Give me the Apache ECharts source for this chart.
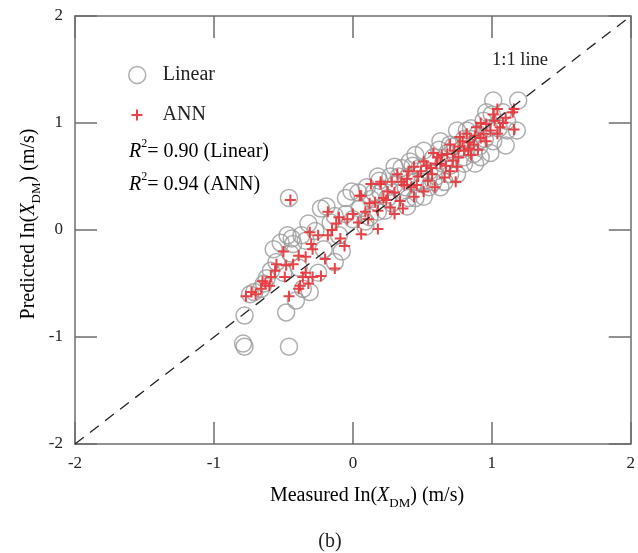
<!DOCTYPE html>
<html><head><meta charset="utf-8">
<script src="https://cdn.jsdelivr.net/npm/echarts@6/dist/echarts.min.js"></script>
<style>html,body{margin:0;padding:0;background:#fff}#c{width:638px;height:553px}</style>
</head><body><div id="c"></div>
<script>
const xTicks = [-2, -1, 0, 1, 2];
const yTicks = [-2, -1, 0, 1, 2];
const linearX = [-0.79,-0.78,-0.46,-0.78,-0.48,-0.41,-0.74,-0.71,-0.66,-0.64,-0.36,-0.31,-0.59,-0.57,-0.39,-0.45,-0.43,-0.34,-0.46,-0.55,-0.50,-0.62,-0.52,-0.47,-0.44,-0.37,-0.32,-0.27,-0.21,-0.13,-0.19,-0.16,-0.05,-0.13,-0.23,-0.01,0.04,0.09,0.13,0.18,0.19,-0.25,-0.10,0.00,0.05,-0.08,
0.09,0.18,0.23,0.30,0.39,0.41,0.51,0.51,0.63,0.63,0.75,0.75,0.80,0.25,0.30,0.35,0.40,0.45,0.48,0.55,0.58,0.60,0.65,0.68,0.70,0.72,0.45,0.55,0.15,0.28,0.33,0.38,
0.20,0.12,0.27,0.35,0.43,0.50,0.58,0.62,0.70,0.66,0.45,0.40,-0.05,0.10,0.70,
0.82,0.94,1.01,1.19,1.18,1.11,1.11,1.01,0.91,0.87,0.80,1.10,0.85,0.90,0.95,1.05,1.08,0.98,0.88,0.92,0.78,1.00,0.85,0.80,0.96,0.99];
const linearY = [-1.06,-1.09,-1.09,-0.80,-0.77,-0.66,-0.60,-0.58,-0.55,-0.50,-0.55,-0.58,-0.38,-0.18,-0.35,-0.22,-0.13,-0.10,0.30,-0.30,-0.40,-0.45,-0.12,-0.05,-0.08,-0.05,0.06,-0.01,-0.18,-0.30,0.22,0.07,0.15,0.13,0.20,0.36,0.35,0.03,0.29,0.17,0.46,-0.40,-0.05,0.10,0.20,-0.20,
0.08,0.50,0.18,0.59,0.22,0.64,0.31,0.74,0.40,0.83,0.52,0.93,0.62,0.30,0.42,0.35,0.50,0.45,0.58,0.55,0.68,0.50,0.62,0.72,0.60,0.78,0.30,0.40,0.35,0.25,0.50,0.40,
0.35,0.12,0.50,0.58,0.60,0.45,0.45,0.75,0.80,0.45,0.70,0.30,0.30,0.40,0.52,
0.93,1.02,1.21,1.21,0.93,1.02,0.93,0.83,0.78,0.71,0.68,0.79,0.85,0.90,0.85,0.95,1.10,0.95,0.62,0.68,0.75,1.08,0.95,0.85,1.10,0.72];
const annX = [-0.77,-0.73,-0.70,-0.66,-0.63,-0.59,-0.56,-0.55,-0.48,-0.49,-0.46,-0.39,-0.36,-0.29,-0.34,-0.29,-0.43,-0.32,-0.38,-0.45,-0.18,0.05,0.20,0.16,-0.04,-0.12,-0.18,-0.31,-0.30,-0.06,-0.09,0.06,0.04,0.11,0.18,0.09,-0.39,-0.20,-0.13,-0.23,-0.34,-0.50,-0.65,-0.60,
-0.15,-0.25,-0.10,0.00,0.12,
0.06,0.13,0.20,0.25,0.32,0.39,0.44,0.51,0.54,0.59,0.61,0.68,0.70,0.75,0.77,0.80,0.34,0.27,0.18,0.44,0.51,0.66,0.70,0.30,0.37,0.47,0.56,0.63,0.58,0.72,0.42,0.24,
0.22,0.28,0.35,0.40,0.46,0.49,0.53,0.57,0.60,0.64,0.67,0.73,0.76,0.79,0.83,0.30,0.36,0.74,
1.04,1.16,1.15,1.16,1.01,0.96,0.89,1.06,1.04,0.94,0.82,0.87,0.77,0.96,1.02,0.92,0.85,0.99,1.10,0.84,0.88,0.90,0.92,1.08];
const annY = [-0.62,-0.58,-0.60,-0.55,-0.50,-0.44,-0.38,-0.32,-0.33,-0.44,-0.62,-0.55,-0.44,-0.44,-0.25,-0.18,-0.32,-0.50,-0.52,0.28,0.17,0.32,0.43,0.26,0.10,0.06,-0.05,-0.02,-0.13,-0.15,-0.08,-0.04,0.07,0.10,0.01,0.17,-0.24,-0.27,-0.36,-0.43,-0.40,-0.20,-0.48,-0.52,
0.00,-0.05,0.12,0.15,0.25,
0.32,0.43,0.45,0.36,0.52,0.48,0.59,0.64,0.46,0.40,0.68,0.71,0.80,0.59,0.87,0.74,0.27,0.21,0.18,0.31,0.36,0.49,0.55,0.35,0.42,0.50,0.58,0.62,0.72,0.65,0.40,0.28,
0.30,0.45,0.45,0.55,0.42,0.55,0.60,0.52,0.62,0.70,0.60,0.74,0.68,0.83,0.76,0.15,0.20,0.45,
1.13,1.13,1.10,0.94,1.08,0.99,0.96,0.96,0.90,0.90,0.90,0.80,0.78,0.83,1.02,0.86,0.70,0.93,1.05,0.82,0.88,0.75,1.00,1.00];
const oneToOne = [[-2,-2],[2,2]];

const FONT = 'Liberation Serif';
const TXT = '#222';
const PLUS = 'path://M4.5,0H6.5V4.5H11V6.5H6.5V11H4.5V6.5H0V4.5H4.5Z';
const axisCol = '#6e6e6e';
const chart = echarts.init(document.getElementById('c'));
const baseAxis = {
  type: 'value', min: -2, max: 2, interval: 1,
  splitLine: {show: false},
  axisLine: {show: true, onZero: false, lineStyle: {color: axisCol, width: 1.5}},
  axisTick: {show: true, inside: true, length: 22, lineStyle: {color: axisCol, width: 1.5}},
};
const supRich = {
  i: {fontFamily: FONT, fontStyle: 'italic', fontSize: 20, color: TXT, verticalAlign: 'top', padding: [4,0,0,0]},
  s: {fontFamily: FONT, fontSize: 12, color: TXT, verticalAlign: 'top'},
  n: {fontFamily: FONT, fontSize: 20, color: TXT, verticalAlign: 'top', padding: [4,0,0,0]}
};
const subRich = {
  n: {fontFamily: FONT, fontSize: 20, color: TXT, verticalAlign: 'bottom', padding: [0,0,4,0]},
  i: {fontFamily: FONT, fontStyle: 'italic', fontSize: 20, color: TXT, verticalAlign: 'bottom', padding: [0,0,4,0]},
  s: {fontFamily: FONT, fontSize: 13, color: TXT, verticalAlign: 'bottom'}
};
chart.setOption({
  animation: false,
  grid: {left: 75, right: 3, top: 16, bottom: 109},
  xAxis: [
    Object.assign({}, baseAxis, {position: 'bottom',
      axisLabel: {fontFamily: FONT, fontSize: 17, color: TXT, margin: 11,
        formatter: v => xTicks.includes(v) ? String(v) : ''}}),
    Object.assign({}, baseAxis, {position: 'top', axisLabel: {show: false}})
  ],
  yAxis: [
    Object.assign({}, baseAxis, {position: 'left',
      axisLabel: {fontFamily: FONT, fontSize: 17, color: TXT, margin: 12,
        formatter: v => yTicks.includes(v) ? String(v) : ''}}),
    Object.assign({}, baseAxis, {position: 'right', axisLabel: {show: false}})
  ],
  legend: [
    {data: [{name: 'Linear', icon: 'circle'}], left: 128, top: 65, orient: 'vertical', padding: 0,
     itemWidth: 17, itemHeight: 17,
     textStyle: {fontFamily: FONT, fontSize: 20, color: TXT, padding: [0,0,0,12]},
     itemStyle: {color: 'rgba(0,0,0,0)', borderColor: '#9a9a9a', borderWidth: 1.5}},
    {data: [{name: 'ANN', icon: PLUS}], left: 131.5, top: 105, orient: 'vertical', padding: 0,
     itemWidth: 11, itemHeight: 11,
     textStyle: {fontFamily: FONT, fontSize: 20, color: TXT, padding: [0,0,0,15]},
     itemStyle: {color: '#e8383d', borderWidth: 0}}
  ],
  series: [
    {name: 'Linear', type: 'scatter', symbol: 'circle', symbolSize: 17, z: 2,
     data: linearX.map((x, i) => [x, linearY[i]]),
     itemStyle: {color: 'rgba(255,255,255,0)', borderColor: '#9a9a9a', borderWidth: 1.5}},
    {name: 'ANN', type: 'scatter', symbol: PLUS, symbolSize: 11, z: 3,
     data: annX.map((x, i) => [x, annY[i]]),
     itemStyle: {color: '#e8383d', opacity: 0.95}},
    {name: '1:1', type: 'line', data: oneToOne, showSymbol: false, z: 4, silent: true,
     lineStyle: {color: '#222', width: 1.3, type: [11, 8]}}
  ],
  graphic: [
    {type: 'text', left: 492, top: 51, style: {text: '1:1 line', font: '18.5px "Liberation Serif"', fill: TXT}},
    {type: 'text', left: 129, top: 138, style: {text: '{i|R}{s|2}{n|= 0.90 (Linear)}', rich: supRich}},
    {type: 'text', left: 129, top: 171, style: {text: '{i|R}{s|2}{n|= 0.94 (ANN)}', rich: supRich}},
    {type: 'text', x: 367, y: 498, style: {
      text: '{n|Measured In(}{i|X}{s|DM}{n|) (m/s)}', align: 'center', verticalAlign: 'middle', rich: subRich}},
    {type: 'text', x: 31, y: 224, rotation: Math.PI / 2, style: {
      text: '{n|Predicted In(}{i|X}{s|DM}{n|) (m/s)}', align: 'center', verticalAlign: 'middle', rich: subRich}},
    {type: 'text', x: 330, y: 542, style: {text: '(b)', font: '20px "Liberation Serif"', fill: TXT, align: 'center', verticalAlign: 'middle'}}
  ]
});
</script></body></html>
